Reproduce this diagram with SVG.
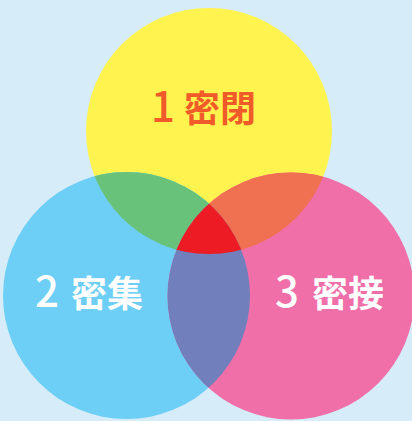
<svg xmlns="http://www.w3.org/2000/svg" width="412" height="421" viewBox="0 0 412 421">
<style>
.lbl{font-family:"Noto Sans CJK JP","Noto Sans",sans-serif;font-size:36px;font-weight:700}
.num{font-size:42px;font-weight:500}
</style>
<defs>
<clipPath id="cy"><circle cx="209" cy="131" r="123"/></clipPath>
<clipPath id="cb"><circle cx="126.5" cy="295.5" r="123.5"/></clipPath>
<clipPath id="cp"><circle cx="291" cy="296" r="123.5"/></clipPath>
</defs>
<rect width="412" height="421" fill="#d6edf9"/>
<g id="yellow"><circle cx="209" cy="131" r="123" fill="#fff350"/></g>
<g id="blue"><circle cx="126.5" cy="295.5" r="123.5" fill="#6dcff6"/></g>
<g id="pink"><circle cx="291" cy="296" r="123.5" fill="#f06fa9"/></g>
<g id="overlaps">
<circle cx="209" cy="131" r="123" fill="#69c279" clip-path="url(#cb)"/>
<circle cx="209" cy="131" r="123" fill="#f07052" clip-path="url(#cp)"/>
<g clip-path="url(#cp)"><circle cx="126.5" cy="295.5" r="123.5" fill="#717fbd"/></g>
<g clip-path="url(#cy)"><g clip-path="url(#cp)"><circle cx="126.5" cy="295.5" r="123.5" fill="#ed1c24"/></g></g>
</g>
<g id="labels">
<text class="lbl" y="122" fill="#f15a29"><tspan class="num" x="151">1</tspan> <tspan x="184">密閉</tspan></text>
<text class="lbl" y="307" fill="#ffffff"><tspan class="num" x="35">2</tspan> <tspan x="71">密集</tspan></text>
<text class="lbl" y="307" fill="#ffffff"><tspan class="num" x="275">3</tspan> <tspan x="312">密接</tspan></text>
</g>
</svg>
